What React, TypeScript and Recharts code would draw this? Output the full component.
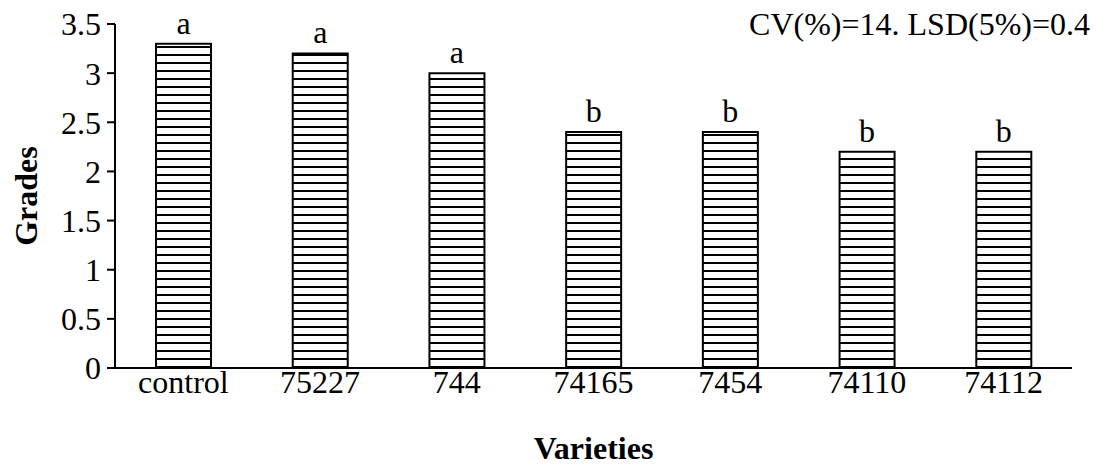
import { Bar, BarChart, LabelList, XAxis, YAxis } from "recharts";

const varieties = ["control", "75227", "744", "74165", "7454", "74110", "74112"];
const grades = [3.3, 3.2, 3.0, 2.4, 2.4, 2.2, 2.2];
const groups = ["a", "a", "a", "b", "b", "b", "b"];
const yTicks = [0, 0.5, 1, 1.5, 2, 2.5, 3, 3.5];

const data = varieties.map((name, i) => ({ name, grade: grades[i], group: groups[i] }));

const FONT = "'Liberation Serif', 'Times New Roman', serif";
const FS = 32;

export default function App() {
  return (
    <div style={{ position: "absolute", left: 0, top: 0, width: 1097, height: 465, background: "#fff" }}>
      <BarChart
        width={1097}
        height={465}
        data={data}
        margin={{ top: 24, right: 25, bottom: 0, left: 0 }}
        barCategoryGap="30%"
      >
        <defs>
          <pattern id="hstripe" patternUnits="userSpaceOnUse" width="8" height="8" y="0">
            <rect width="8" height="8" fill="#fff" />
            <rect y="6" width="8" height="2" fill="#000" />
          </pattern>
        </defs>
        <XAxis
          dataKey="name"
          tickLine={false}
          tickSize={0}
          axisLine={{ stroke: "#000", strokeWidth: 2 }}
          tick={{ fill: "#000", fontSize: FS, fontFamily: FONT }}
          tickMargin={2}
          height={97}
          label={{ value: "Varieties", position: "insideBottom", offset: 6, fill: "#000", fontSize: FS, fontWeight: "bold", fontFamily: FONT }}
        />
        <YAxis
          domain={[0, 3.5]}
          ticks={yTicks}
          width={115}
          tickSize={8}
          tickLine={{ stroke: "#000", strokeWidth: 2 }}
          axisLine={{ stroke: "#000", strokeWidth: 2 }}
          tick={{ fill: "#000", fontSize: FS, fontFamily: FONT }}
          tickMargin={6}
          label={{ value: "Grades", angle: -90, position: "center", dx: -32, fill: "#000", fontSize: FS, fontWeight: "bold", fontFamily: FONT }}
        />
        <Bar dataKey="grade" fill="url(#hstripe)" stroke="#000" strokeWidth={2} isAnimationActive={false}>
          <LabelList dataKey="group" position="top" offset={10} fill="#000" fontSize={FS} fontFamily={FONT} />
        </Bar>
      </BarChart>
      <div
        style={{
          position: "absolute",
          right: 7,
          top: 8,
          fontFamily: FONT,
          fontSize: FS,
          color: "#000",
          lineHeight: 1,
        }}
      >
        CV(%)=14. LSD(5%)=0.4
      </div>
    </div>
  );
}
